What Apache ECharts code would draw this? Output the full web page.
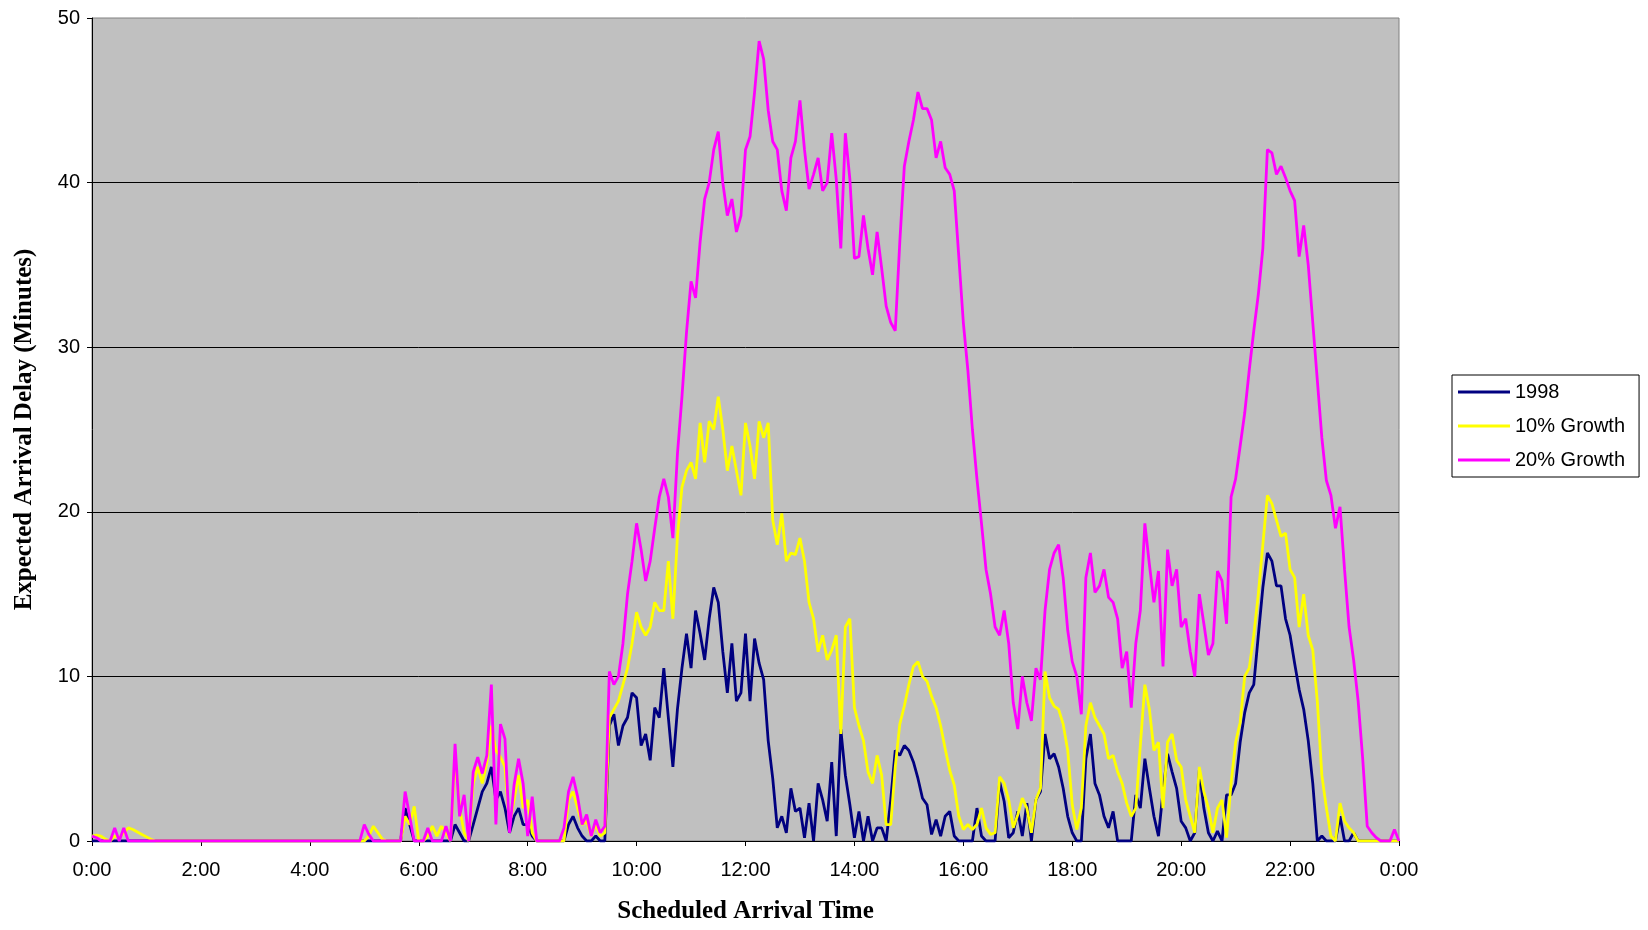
<!DOCTYPE html>
<html>
<head>
<meta charset="utf-8">
<script src="https://cdn.jsdelivr.net/npm/echarts@6/dist/echarts.min.js"></script>
<style>
  html, body { margin: 0; padding: 0; background: #ffffff; }
  #chart { width: 1648px; height: 930px; }
</style>
</head>
<body>
<div id="chart"></div>
<script>
// Expected arrival delay (minutes) by scheduled arrival time, one value per 5-minute slot
// from 0:00 to 24:00 (289 slots). Each row below holds one hour (12 slots).
const SLOT_MINUTES = 5;
const seriesNames = ['1998', '10% Growth', '20% Growth'];

const delay1998 = [
  0,0,0,0,0,0,0,0,0,0,0,0,                                   // 0:00
  0,0,0,0,0,0,0,0,0,0,0,0,                                   // 1:00
  0,0,0,0,0,0,0,0,0,0,0,0,                                   // 2:00
  0,0,0,0,0,0,0,0,0,0,0,0,                                   // 3:00
  0,0,0,0,0,0,0,0,0,0,0,0,                                   // 4:00
  0,0,0,0,0,0,0,0,0,2.0,1.0,0,                               // 5:00
  0,0,0,0,0,0,0,0,1.0,0.5,0,0,                               // 6:00
  1.0,2.0,3.0,3.5,4.5,2.5,3.0,2.0,0.5,1.5,2.0,1.0,           // 7:00
  1.0,0.3,0,0,0,0,0,0,0,1.0,1.5,0.8,                         // 8:00
  0.3,0,0,0.3,0,0,7.0,7.7,5.8,7.0,7.5,9.0,                   // 9:00
  8.7,5.8,6.5,4.9,8.1,7.5,10.5,7.5,4.5,8.0,10.5,12.6,        // 10:00
  10.5,14.0,12.6,11.0,13.5,15.4,14.5,11.5,9.0,12.0,8.5,9.0,  // 11:00
  12.6,8.5,12.3,10.8,9.8,6.1,3.8,0.8,1.5,0.5,3.2,1.8,        // 12:00
  2.0,0.2,2.3,0,3.5,2.5,1.2,4.8,0.3,6.8,4.0,2.2,             // 13:00
  0.2,1.8,0,1.5,0,0.8,0.8,0,2.5,5.5,5.2,5.8,                 // 14:00
  5.5,4.8,3.8,2.6,2.2,0.4,1.3,0.3,1.5,1.8,0.3,0,             // 15:00
  0,0,0,2.0,0.3,0,0,0,3.6,2.4,0.2,0.5,                       // 16:00
  1.8,0.3,2.3,0,2.5,3.0,6.5,5.0,5.3,4.5,3.2,1.5,             // 17:00
  0.5,0,0,5.0,6.5,3.5,2.8,1.5,0.8,1.8,0,0,                   // 18:00
  0,0,2.8,2.0,5.0,3.2,1.5,0.3,3.0,5.3,4.2,3.2,               // 19:00
  1.2,0.8,0,0.5,4.3,2.0,0.5,0,0.6,0,2.8,2.8,                 // 20:00
  3.5,6.0,7.8,9.0,9.5,12.5,15.4,17.5,17.0,15.5,15.5,13.5,    // 21:00
  12.5,10.8,9.2,8.0,6.1,3.5,0,0.3,0,0,0,1.5,                 // 22:00
  0,0,0.5,0,0,0,0,0,0,0,0,0,                                 // 23:00
  0                                                          // 24:00
];

const delayGrowth10 = [
  0.3,0.35,0.3,0.1,0,0.3,0.2,0.5,0.8,0.7,0.55,0.4,           // 0:00
  0.25,0.1,0,0,0,0,0,0,0,0,0,0,                              // 1:00
  0,0,0,0,0,0,0,0,0,0,0,0,                                   // 2:00
  0,0,0,0,0,0,0,0,0,0,0,0,                                   // 3:00
  0,0,0,0,0,0,0,0,0,0,0,0,                                   // 4:00
  0,0.3,0.9,0.5,0.1,0,0,0,0,1.5,1.0,2.1,                     // 5:00
  0,0,0.3,0.9,0.3,0.9,0.5,0,5.1,2.0,0.5,0,                   // 6:00
  3.5,4.5,3.5,4.8,7.0,5.5,5.1,4.5,1.0,2.5,4.0,2.0,           // 7:00
  2.5,0.5,0,0,0,0,0,0,0,2.5,3.0,2.0,                         // 8:00
  1.0,1.2,0.3,1.0,0.3,0.5,7.5,8.0,8.5,9.5,10.5,12.0,         // 9:00
  13.9,13.0,12.5,13.0,14.5,14.0,14.0,17.0,13.5,18.5,21.5,22.5, // 10:00
  23.0,22.0,25.4,23.0,25.5,25.0,27.0,25.0,22.5,24.0,22.5,21.0, // 11:00
  25.4,24.0,22.0,25.5,24.5,25.4,19.5,18.0,19.9,17.0,17.5,17.4, // 12:00
  18.4,17.0,14.5,13.5,11.5,12.5,11.0,11.6,12.5,6.5,13.0,13.5,  // 13:00
  8.1,7.0,6.1,4.2,3.5,5.2,4.0,1.0,1.0,4.5,7.1,8.2,           // 14:00
  9.5,10.6,10.9,10.0,9.7,8.8,8.1,7.0,5.6,4.3,3.4,1.5,        // 15:00
  0.7,1.0,0.7,1.0,2.0,0.8,0.4,0.5,3.9,3.5,2.5,0.8,           // 16:00
  1.6,2.6,2.0,0.5,2.5,3.2,10.3,8.7,8.2,8.0,7.1,5.5,          // 17:00
  2.2,0.7,2.0,7.0,8.4,7.5,7.0,6.5,5.0,5.2,4.2,3.5,           // 18:00
  2.3,1.5,2.0,5.8,9.5,8.0,5.5,6.0,2.0,6.0,6.5,4.9,           // 19:00
  4.5,2.5,1.5,0.5,4.5,3.0,2.0,0.5,2.0,2.5,0.2,3.5,           // 20:00
  6.0,7.2,10.0,10.5,12.5,15.0,18.0,21.0,20.5,19.5,18.5,18.7, // 21:00
  16.5,16.0,13.0,15.0,12.5,11.6,8.5,4.0,2.0,0.3,0,2.3,       // 22:00
  1.2,0.8,0.5,0,0,0,0,0,0,0,0,0,                             // 23:00
  0                                                          // 24:00
];

const delayGrowth20 = [
  0.3,0.2,0,0,0,0.8,0,0.8,0,0,0,0,                           // 0:00
  0,0,0,0,0,0,0,0,0,0,0,0,                                   // 1:00
  0,0,0,0,0,0,0,0,0,0,0,0,                                   // 2:00
  0,0,0,0,0,0,0,0,0,0,0,0,                                   // 3:00
  0,0,0,0,0,0,0,0,0,0,0,0,                                   // 4:00
  1.0,0.4,0,0,0,0,0,0,0,3.0,1.5,0,                           // 5:00
  0,0,0.8,0,0,0,0.9,0,5.9,1.5,2.8,0,                         // 6:00
  4.2,5.1,4.1,5.2,9.5,1.0,7.1,6.2,0.5,3.4,5.0,3.5,           // 7:00
  0.3,2.7,0,0,0,0,0,0,0.8,3.0,3.9,2.7,                       // 8:00
  1.0,1.6,0.3,1.3,0.5,0.9,10.3,9.5,10.0,12.0,15.0,17.0,      // 9:00
  19.3,17.7,15.8,17.0,19.0,20.9,22.0,20.9,18.4,23.5,27.0,30.9, // 10:00
  34.0,33.0,36.4,39.0,40.0,42.0,43.1,40.0,38.0,39.0,37.0,38.0, // 11:00
  42.0,42.8,45.5,48.6,47.5,44.4,42.5,42.0,39.5,38.3,41.5,42.5, // 12:00
  45.0,42.0,39.6,40.5,41.5,39.5,40.0,43.0,40.2,36.0,43.0,40.2, // 13:00
  35.4,35.5,38.0,36.0,34.4,37.0,34.8,32.5,31.5,31.0,36.4,41.0, // 14:00
  42.5,43.8,45.5,44.5,44.5,43.8,41.5,42.5,40.9,40.5,39.5,35.5, // 15:00
  31.5,28.6,25.0,22.0,19.3,16.5,15.0,13.0,12.5,14.0,12.0,8.4,  // 16:00
  6.8,10.0,8.4,7.3,10.5,9.8,14.0,16.5,17.5,18.0,16.0,12.8,     // 17:00
  10.9,10.0,7.7,16.0,17.5,15.1,15.5,16.5,14.8,14.5,13.5,10.5,  // 18:00
  11.5,8.1,12.0,14.0,19.3,16.8,14.5,16.4,10.6,17.7,15.5,16.5,  // 19:00
  13.0,13.5,11.5,10.0,15.0,13.2,11.3,12.0,16.4,15.8,13.2,20.9, // 20:00
  22.0,24.0,26.0,28.6,31.0,33.2,36.0,42.0,41.8,40.5,41.0,40.3, // 21:00
  39.5,38.9,35.5,37.4,35.0,31.5,28.0,24.5,21.9,21.0,19.0,20.3, // 22:00
  16.5,13.0,11.0,8.5,5.0,0.9,0.5,0.2,0,0,0,0.7,              // 23:00
  0                                                          // 24:00
];

const seriesColors = ['#000080', '#FFFF00', '#FF00FF'];

// Pair each slot value with its scheduled minute of the day.
function toPoints(values) {
  return values.map((v, i) => [i * SLOT_MINUTES, v]);
}

const chart = echarts.init(document.getElementById('chart'), null, { renderer: 'canvas' });

const sansFont = "'Liberation Sans', Arial, sans-serif";
const serifFont = "'Liberation Serif', 'Times New Roman', serif";

chart.setOption({
  animation: false,
  backgroundColor: '#ffffff',
  grid: {
    left: 92, right: 249, top: 18, bottom: 89,
    show: true,
    backgroundColor: '#C0C0C0',
    borderColor: '#808080',
    borderWidth: 1
  },
  legend: {
    data: seriesNames,
    orient: 'vertical',
    left: 1452,
    top: 375,
    icon: 'rect',
    itemWidth: 52,
    itemHeight: 3,
    itemGap: 12,
    padding: [6, 14, 6, 6],
    borderColor: '#000000',
    borderWidth: 1,
    backgroundColor: '#ffffff',
    textStyle: { fontFamily: sansFont, fontSize: 20, color: '#000000', lineHeight: 22 }
  },
  xAxis: {
    type: 'value',
    min: 0,
    max: 1440,
    interval: 120,
    name: 'Scheduled Arrival Time',
    nameLocation: 'middle',
    nameGap: 58,
    nameTextStyle: { fontFamily: serifFont, fontWeight: 'bold', fontSize: 25, color: '#000000' },
    axisLine: { show: true, lineStyle: { color: '#000000', width: 1 } },
    axisTick: { show: true, length: 5, lineStyle: { color: '#000000' } },
    axisLabel: {
      margin: 19,
      fontFamily: sansFont,
      fontSize: 20,
      color: '#000000',
      formatter: v => (Math.round(v / 60) % 24) + ':00'
    },
    splitLine: { show: false }
  },
  yAxis: {
    type: 'value',
    min: 0,
    max: 50,
    interval: 10,
    name: 'Expected Arrival Delay (Minutes)',
    nameLocation: 'middle',
    nameRotate: 90,
    nameGap: 55,
    nameTextStyle: { fontFamily: serifFont, fontWeight: 'bold', fontSize: 25, color: '#000000' },
    axisLine: { show: true, lineStyle: { color: '#000000', width: 1 } },
    axisTick: { show: true, length: 5, lineStyle: { color: '#000000' } },
    axisLabel: { margin: 12, fontFamily: sansFont, fontSize: 20, color: '#000000' },
    splitLine: {
      show: true,
      showMinLine: false,
      showMaxLine: false,
      lineStyle: { color: '#000000', width: 1 }
    }
  },
  series: [delay1998, delayGrowth10, delayGrowth20].map((vals, k) => ({
    name: seriesNames[k],
    type: 'line',
    data: toPoints(vals),
    showSymbol: false,
    symbol: 'none',
    color: seriesColors[k],
    lineStyle: { color: seriesColors[k], width: 2.8 },
    emphasis: { disabled: true }
  }))
});
</script>
</body>
</html>
